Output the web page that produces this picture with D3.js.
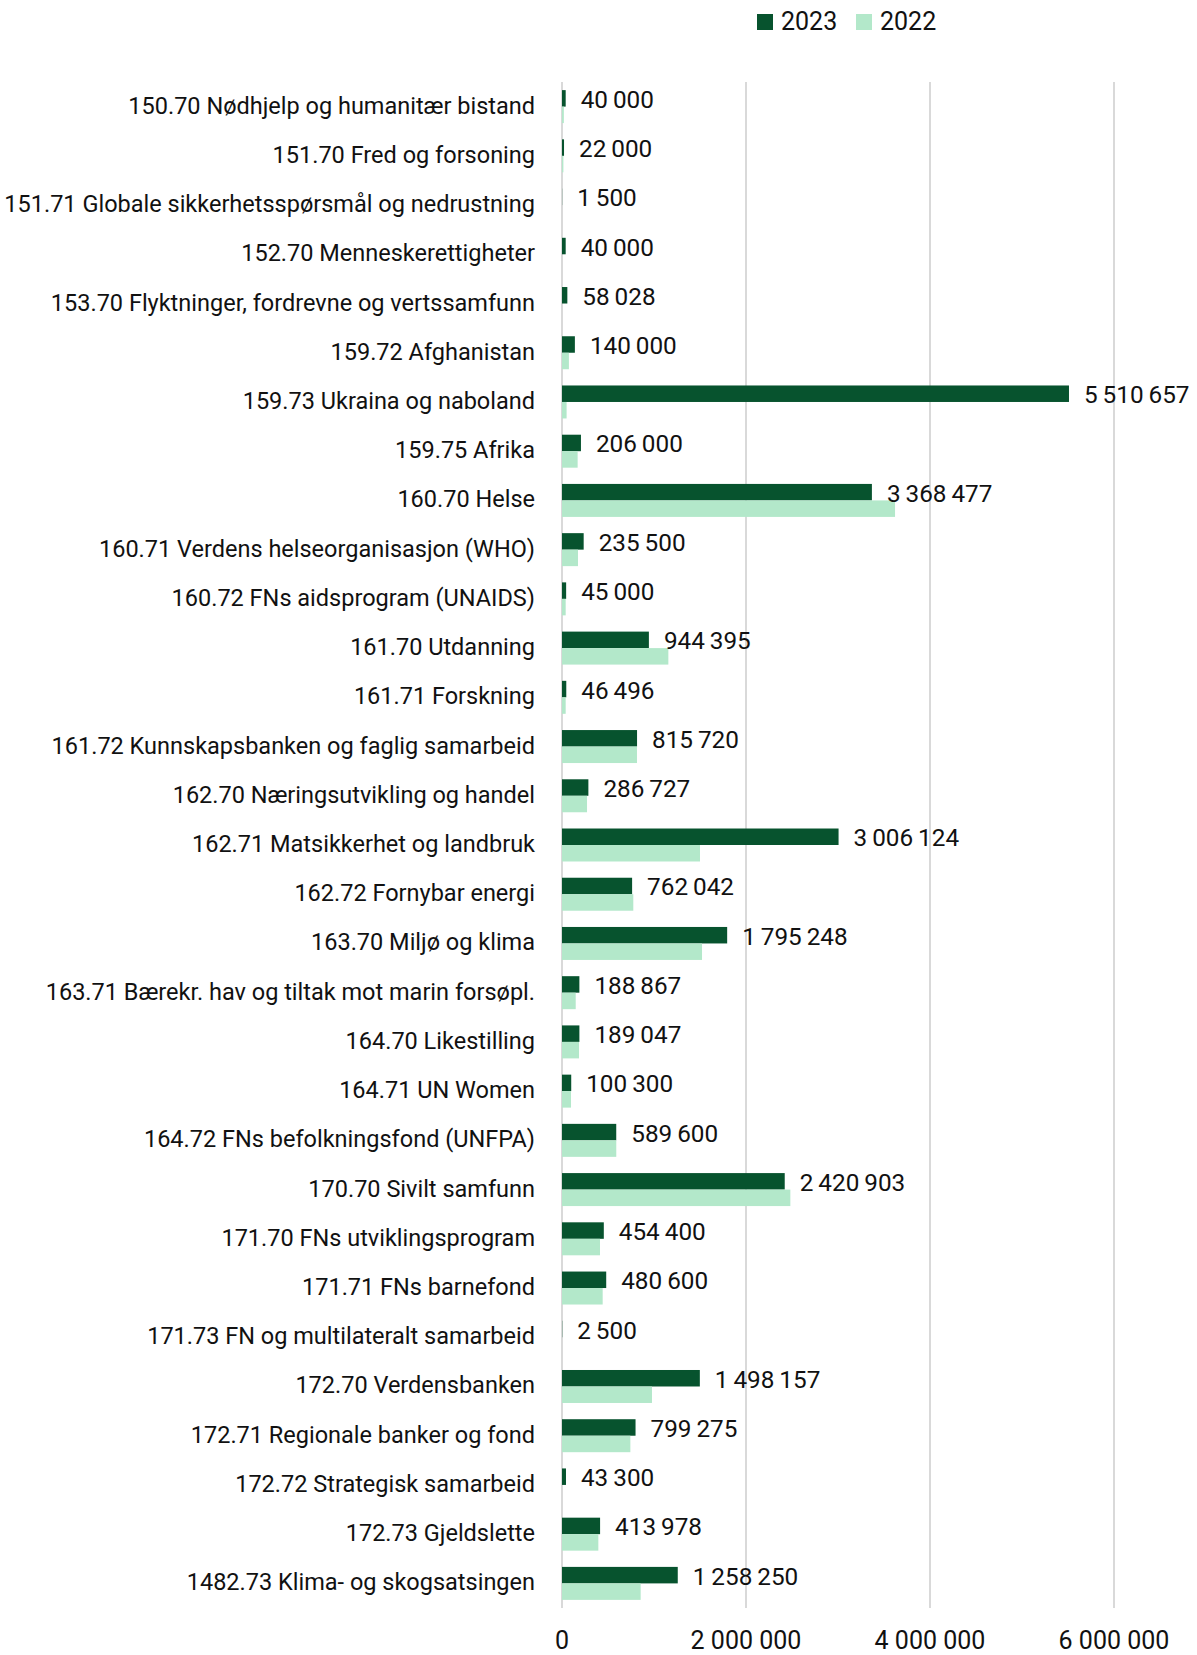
<!DOCTYPE html>
<html>

<head>
    <meta charset="utf-8">
    <title>d3</title>
    <style type="text/css">
    body {
        margin: 0;
        background: #fff;
    }

    text {
        font-family: Roboto, "Liberation Sans", sans-serif;
        fill: #111;
    }
    </style>
</head>

<body>
    <script src="https://cdn.jsdelivr.net/npm/d3@7"></script>
    <div id="chart"></div>
    <script>
    var categories = [
        "150.70 Nødhjelp og humanitær bistand",
        "151.70 Fred og forsoning",
        "151.71 Globale sikkerhetsspørsmål og nedrustning",
        "152.70 Menneskerettigheter",
        "153.70 Flyktninger, fordrevne og vertssamfunn",
        "159.72 Afghanistan",
        "159.73 Ukraina og naboland",
        "159.75 Afrika",
        "160.70 Helse",
        "160.71 Verdens helseorganisasjon (WHO)",
        "160.72 FNs aidsprogram (UNAIDS)",
        "161.70 Utdanning",
        "161.71 Forskning",
        "161.72 Kunnskapsbanken og faglig samarbeid",
        "162.70 Næringsutvikling og handel",
        "162.71 Matsikkerhet og landbruk",
        "162.72 Fornybar energi",
        "163.70 Miljø og klima",
        "163.71 Bærekr. hav og tiltak mot marin forsøpl.",
        "164.70 Likestilling",
        "164.71 UN Women",
        "164.72 FNs befolkningsfond (UNFPA)",
        "170.70 Sivilt samfunn",
        "171.70 FNs utviklingsprogram",
        "171.71 FNs barnefond",
        "171.73 FN og multilateralt samarbeid",
        "172.70 Verdensbanken",
        "172.71 Regionale banker og fond",
        "172.72 Strategisk samarbeid",
        "172.73 Gjeldslette",
        "1482.73 Klima- og skogsatsingen"
    ];

    var values2023 = [40000, 22000, 1500, 40000, 58028, 140000, 5510657, 206000, 3368477, 235500,
        45000, 944395, 46496, 815720, 286727, 3006124, 762042, 1795248, 188867, 189047,
        100300, 589600, 2420903, 454400, 480600, 2500, 1498157, 799275, 43300, 413978, 1258250];

    var values2022 = [20000, 15000, 0, 0, 0, 75000, 50000, 170000, 3620000, 174000,
        40000, 1156000, 40000, 815000, 272000, 1500000, 775000, 1522000, 149000, 185000,
        98000, 590000, 2482000, 413000, 442000, 0, 978000, 743000, 0, 395000, 855000];

    var series = ["2023", "2022"];
    var colors = ["#07532e", "#b3e8ca"];
    var xTicks = [0, 2000000, 4000000, 6000000];

    var W = 1197, H = 1655;
    var x0 = 562, x1 = 1114, yTop = 82, yBot = 1608;

    var nb = d3.formatLocale({ decimal: ",", thousands: "\u2009", grouping: [3], currency: ["", ""] });
    var fmt = nb.format(",");
    var fmtTick = d3.formatLocale({ decimal: ",", thousands: "\u00a0", grouping: [3], currency: ["", ""] }).format(",");

    var svg = d3.select('#chart').append('svg')
        .attr('width', W)
        .attr('height', H);

    var xScale = d3.scaleLinear()
        .domain([0, 6000000])
        .range([x0, x1]);

    var yScale = d3.scaleBand()
        .domain(categories)
        .range([yTop, yBot])
        .paddingInner(0.33)
        .paddingOuter(0.165);

    var sub = d3.scaleBand()
        .domain(series)
        .range([0, yScale.bandwidth()]);

    // grid
    svg.append('g').selectAll('line')
        .data(xTicks)
        .enter()
        .append('line')
        .attr('x1', function(d) { return xScale(d); })
        .attr('x2', function(d) { return xScale(d); })
        .attr('y1', yTop)
        .attr('y2', yBot)
        .attr('stroke', '#d9d9d9')
        .attr('stroke-width', 2);

    // tick labels
    svg.append('g').selectAll('text')
        .data(xTicks)
        .enter()
        .append('text')
        .attr('x', function(d) { return xScale(d); })
        .attr('y', 1640)
        .attr('text-anchor', 'middle')
        .attr('dominant-baseline', 'central')
        .style('font-size', '25px')
        .text(function(d) { return fmtTick(d); });

    var allData = [values2023, values2022];

    series.forEach(function(s, si) {
        svg.append('g').selectAll('rect')
            .data(allData[si])
            .enter()
            .append('rect')
            .attr('x', xScale(0))
            .attr('y', function(d, i) { return yScale(categories[i]) + sub(s); })
            .attr('width', function(d) { return xScale(d) - xScale(0); })
            .attr('height', sub.bandwidth())
            .attr('fill', colors[si]);
    });

    // category labels
    svg.append('g').selectAll('text')
        .data(categories)
        .enter()
        .append('text')
        .attr('x', 535)
        .attr('y', function(d) { return yScale(d) + yScale.bandwidth() / 2 - 1; })
        .attr('text-anchor', 'end')
        .attr('dominant-baseline', 'central')
        .style('font-size', '23.5px')
        .text(function(d) { return d; });

    // value labels for 2023
    svg.append('g').selectAll('text')
        .data(values2023)
        .enter()
        .append('text')
        .attr('x', function(d) { return xScale(d) + 15; })
        .attr('y', function(d, i) { return yScale(categories[i]) + sub('2023') + sub.bandwidth() / 2 + 1; })
        .attr('dominant-baseline', 'central')
        .style('font-size', '24.3px')
        .text(function(d) { return fmt(d); });

    // legend
    var leg = svg.append('g');
    var legX = [757, 856];
    series.forEach(function(s, i) {
        leg.append('rect')
            .attr('x', legX[i]).attr('y', 14)
            .attr('width', 16).attr('height', 16)
            .attr('fill', colors[i]);
        leg.append('text')
            .attr('x', legX[i] + 24).attr('y', 21)
            .attr('dominant-baseline', 'central')
            .style('font-size', '25px')
            .text(s);
    });
    </script>
</body>

</html>
